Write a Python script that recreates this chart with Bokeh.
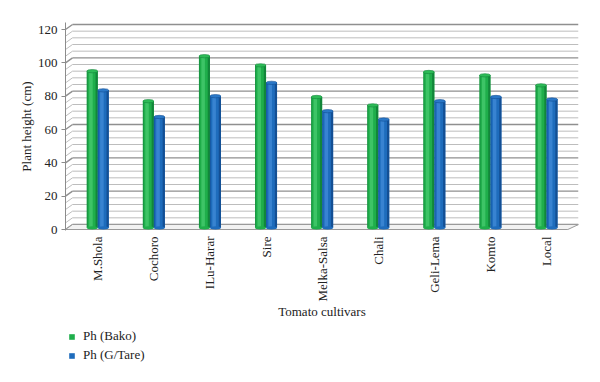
import numpy as np
from bokeh.plotting import figure
from bokeh.layouts import column
from bokeh.models import Range1d, FixedTicker, Legend, LegendItem
from bokeh.embed import file_html
from bokeh.resources import INLINE

# ---- data ----
cultivars = ["M.Shola", "Cochoro", "ILu-Harar", "Sire", "Melka-Salsa",
             "Chali", "Geli-Lema", "Komto", "Local"]
ph_bako = [92.5, 74.5, 101.5, 96, 77, 72, 92, 90, 84]
ph_gtare = [81, 65, 77.5, 85.5, 68.5, 63.5, 74.5, 77, 75.5]
series_names = ["Ph (Bako)", "Ph (G/Tare)"]
y_ticks = [0, 20, 40, 60, 80, 100, 120]
grid_step = 4
y_title = "Plant height (cm)"
x_title = "Tomato cultivars"

# ---- style ----
FONT = "Liberation Serif"
GREEN, GREEN_HI, GREEN_DK, GREEN_TOP = "#1fae4b", "#45c96d", "#12863a", "#2dbb57"
BLUE, BLUE_HI, BLUE_DK, BLUE_TOP = "#1e6cbc", "#3f8ad6", "#134f94", "#2a78c8"
DEPTH = 3.0      # perspective shift of the back wall (value units)
XD = 0.125       # perspective shift of the back wall (category units)
WALL_L = -0.45
X0 = WALL_L - XD
X1 = 8.57
FRONT_R = 8.38

p = figure(width=600, height=322,
           x_range=Range1d(X0, X1), y_range=Range1d(-0.6, 124.2),
           output_backend="svg", toolbar_location=None,
           min_border_left=65, min_border_top=22, min_border_right=22,
           min_border_bottom=92, outline_line_color=None,
           background_fill_color="white", border_fill_color="white")
p.xgrid.visible = False
p.ygrid.visible = False

# back wall + left wall grid
levels = np.arange(0, y_ticks[-1] + grid_step, grid_step)
major = [lv for lv in levels if lv % 20 == 0]
minor = [lv for lv in levels if lv % 20 != 0]
for vals, col, lw in ((minor, "#bdbdbd", 1.0), (major, "#8f8f8f", 1.4)):
    vals = np.array(vals, dtype=float)
    p.segment(x0=[WALL_L] * len(vals), x1=[X1] * len(vals),
              y0=vals + DEPTH, y1=vals + DEPTH, line_color=col, line_width=lw)
    p.segment(x0=[X0] * len(vals), x1=[WALL_L] * len(vals),
              y0=vals, y1=vals + DEPTH, line_color=col, line_width=lw)

# floor
p.patch([X0, WALL_L, X1, FRONT_R], [0, DEPTH, DEPTH, 0],
        fill_color="#f2f2f2", line_color="#9a9a9a", line_width=1)

# bars (cylinders)
x = np.arange(len(cultivars), dtype=float)
w = 0.196
styles = ((-w / 2, ph_bako, GREEN, GREEN_HI, GREEN_DK, GREEN_TOP),
          (w / 2, ph_gtare, BLUE, BLUE_HI, BLUE_DK, BLUE_TOP))
for off, vals, base, hi, dk, top in styles:
    vals = np.array(vals, dtype=float)
    xc = x + off
    tops = vals + 2.5
    p.vbar(x=xc, width=w, bottom=1.0, top=tops, fill_color=base, line_color=None)
    p.vbar(x=xc - w * 0.12, width=w * 0.32, bottom=1.0, top=tops, fill_color=hi,
           line_color=None, fill_alpha=0.8)
    p.vbar(x=xc + w * 0.40, width=w * 0.2, bottom=1.0, top=tops, fill_color=dk,
           line_color=None)
    p.vbar(x=xc - w * 0.45, width=w * 0.1, bottom=1.0, top=tops, fill_color=dk,
           line_color=None, fill_alpha=0.6)
    p.ellipse(x=xc, y=tops, width=w, height=2.0, fill_color=top, line_color=dk,
              line_width=0.6)
    p.ellipse(x=xc, y=[1.0] * len(xc), width=w, height=2.0, fill_color=base, line_color=None)

# axes
yax = p.yaxis[0]
yax.ticker = FixedTicker(ticks=y_ticks)
yax.axis_line_color = "#8c8c8c"
yax.major_tick_line_color = "#8c8c8c"
yax.major_tick_out = 4
yax.major_tick_in = 0
yax.minor_tick_line_color = None
yax.minor_tick_out = 0
yax.minor_tick_in = 0
yax.major_label_text_font = FONT
yax.major_label_text_font_size = "13px"
yax.major_label_text_color = "#222222"
yax.major_label_standoff = 4
yax.axis_label = y_title
yax.axis_label_text_font = FONT
yax.axis_label_text_font_size = "13px"
yax.axis_label_text_font_style = "normal"
yax.axis_label_text_color = "#222222"
yax.axis_label_standoff = 1

xax = p.xaxis[0]
xax.ticker = FixedTicker(ticks=list(range(len(cultivars))))
xax.major_label_overrides = {i: c for i, c in enumerate(cultivars)}
xax.major_label_orientation = np.pi / 2
xax.axis_line_color = None
xax.major_tick_line_color = None
xax.minor_tick_line_color = None
xax.major_tick_out = 0
xax.major_tick_in = 0
xax.minor_tick_out = 0
xax.minor_tick_in = 0
xax.major_label_standoff = 6
xax.major_label_text_font = FONT
xax.major_label_text_font_size = "13px"
xax.major_label_text_color = "#222222"
xax.axis_label = x_title
xax.axis_label_text_font = FONT
xax.axis_label_text_font_size = "13px"
xax.axis_label_text_font_style = "normal"
xax.axis_label_text_color = "#222222"
xax.axis_label_standoff = 0

# legend in its own strip below the chart
lf = figure(width=600, height=55, x_range=Range1d(50, 51), y_range=Range1d(500, 501),
            output_backend="svg", toolbar_location=None, min_border=0,
            x_axis_location=None, y_axis_location=None,
            outline_line_color=None, background_fill_color="white",
            border_fill_color="white")
lf.grid.visible = False
leg_items = []
for name, (_, vals, base, _, _, _) in zip(series_names, styles):
    # zero-height proxy bars (outside the strip's range) used only as legend keys
    r = lf.vbar(x=x, width=w, bottom=vals, top=vals, fill_color=base, line_color=None)
    leg_items.append(LegendItem(label=name, renderers=[r]))
legend = Legend(items=leg_items, orientation="vertical", location=(3, 14),
                border_line_color=None, background_fill_alpha=0,
                glyph_width=7, glyph_height=7, label_height=14,
                label_text_font=FONT, label_text_font_size="13px",
                label_text_color="#222222", spacing=3, padding=2, margin=0,
                label_standoff=8)
lf.add_layout(legend, "center")

layout = column(p, lf, spacing=0)
html = file_html(layout, INLINE)
open("out.html", "w").write(html)
